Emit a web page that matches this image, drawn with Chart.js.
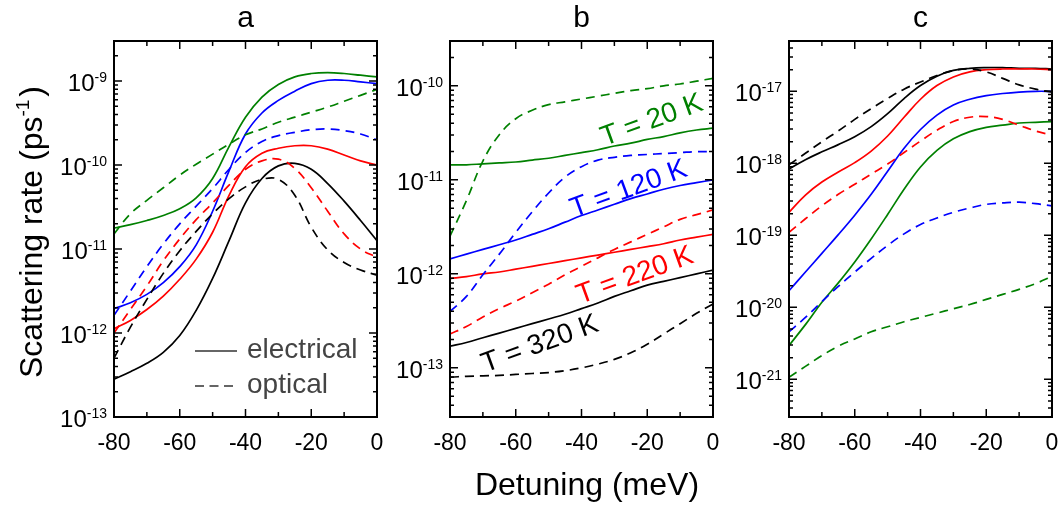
<!DOCTYPE html>
<html>
<head>
<meta charset="utf-8">
<script src="https://cdn.jsdelivr.net/npm/chart.js@4.4.1/dist/chart.umd.min.js"></script>
<style>
  body { margin: 0; background: #fff; }
  #wrap { position: relative; width: 1061px; height: 507px; }
  canvas { position: absolute; left: 0; top: 0; }
</style>
</head>
<body>
<div id="wrap">
  <canvas id="panelA" width="1061" height="507"></canvas>
  <canvas id="panelB" width="1061" height="507"></canvas>
  <canvas id="panelC" width="1061" height="507"></canvas>
</div>
<script>
const FONT = '"Liberation Sans", Arial, sans-serif';
const GREEN = '#008000', BLUE = '#0000ff', RED = '#ff0000', BLACK = '#000000';

// detuning grid (meV) shared by every curve
const detuning = [-80, -75, -70, -65, -60, -55, -50, -45, -40, -35, -30, -25, -20, -15, -10, -5, 0];
const detuningTicks = [-80, -60, -40, -20, 0];

// all rates below are log10 of the scattering rate in ps^-1
// panel a
const aElec20  = [-10.75, -10.71, -10.66, -10.60, -10.52, -10.39, -10.16, -9.78, -9.43, -9.19, -9.04, -8.95, -8.91, -8.90, -8.91, -8.93, -8.95];
const aElec120 = [-11.71, -11.64, -11.54, -11.40, -11.21, -10.95, -10.55, -10.07, -9.63, -9.38, -9.23, -9.12, -9.03, -8.99, -8.99, -9.01, -9.03];
const aElec220 = [-11.95, -11.85, -11.72, -11.56, -11.36, -11.12, -10.80, -10.36, -10.02, -9.86, -9.80, -9.77, -9.77, -9.81, -9.88, -9.95, -10.00];
const aElec320 = [-12.55, -12.46, -12.36, -12.23, -12.03, -11.73, -11.35, -10.90, -10.45, -10.16, -10.01, -9.98, -10.05, -10.22, -10.43, -10.66, -10.90];
const aOpt20   = [-10.82, -10.58, -10.42, -10.27, -10.12, -9.99, -9.87, -9.75, -9.64, -9.57, -9.49, -9.43, -9.37, -9.31, -9.24, -9.17, -9.10];
const aOpt120  = [-11.79, -11.50, -11.21, -10.94, -10.70, -10.49, -10.28, -10.05, -9.85, -9.72, -9.65, -9.61, -9.58, -9.57, -9.59, -9.63, -9.70];
const aOpt220  = [-12.00, -11.72, -11.44, -11.14, -10.88, -10.65, -10.45, -10.24, -10.05, -9.95, -9.93, -10.04, -10.27, -10.55, -10.82, -11.00, -11.10];
const aOpt320  = [-12.30, -11.93, -11.60, -11.29, -11.02, -10.79, -10.58, -10.40, -10.26, -10.17, -10.17, -10.36, -10.74, -11.01, -11.16, -11.25, -11.31];

// panel b
const bElec20  = [-10.84, -10.84, -10.83, -10.82, -10.81, -10.79, -10.77, -10.74, -10.71, -10.68, -10.64, -10.61, -10.57, -10.54, -10.50, -10.47, -10.45];
const bElec120 = [-11.84, -11.79, -11.74, -11.69, -11.64, -11.58, -11.52, -11.45, -11.38, -11.32, -11.26, -11.20, -11.15, -11.10, -11.06, -11.03, -11.00];
const bElec220 = [-12.05, -12.03, -12.00, -11.98, -11.95, -11.92, -11.89, -11.86, -11.83, -11.80, -11.77, -11.74, -11.71, -11.68, -11.64, -11.61, -11.58];
const bElec320 = [-12.77, -12.73, -12.68, -12.63, -12.58, -12.53, -12.48, -12.43, -12.37, -12.31, -12.24, -12.18, -12.12, -12.08, -12.04, -12.00, -11.96];
const bOpt20   = [-11.60, -11.22, -10.80, -10.52, -10.35, -10.26, -10.20, -10.17, -10.14, -10.11, -10.08, -10.05, -10.03, -10.00, -9.98, -9.95, -9.92];
const bOpt120  = [-12.40, -12.24, -12.01, -11.79, -11.56, -11.34, -11.14, -10.97, -10.86, -10.79, -10.76, -10.74, -10.73, -10.72, -10.71, -10.70, -10.70];
const bOpt220  = [-12.64, -12.56, -12.46, -12.37, -12.29, -12.20, -12.11, -12.01, -11.92, -11.83, -11.74, -11.66, -11.58, -11.50, -11.42, -11.37, -11.32];
const bOpt320  = [-13.10, -13.09, -13.085, -13.08, -13.07, -13.06, -13.05, -13.03, -13.00, -12.96, -12.91, -12.84, -12.75, -12.64, -12.53, -12.42, -12.32];

// panel c
const cElec20  = [-20.53, -20.24, -19.93, -19.66, -19.37, -19.05, -18.71, -18.36, -18.05, -17.82, -17.66, -17.56, -17.50, -17.47, -17.44, -17.43, -17.42];
const cElec120 = [-19.77, -19.51, -19.25, -18.99, -18.72, -18.43, -18.11, -17.79, -17.53, -17.33, -17.19, -17.11, -17.06, -17.03, -17.01, -17.00, -17.00];
const cElec220 = [-18.68, -18.44, -18.26, -18.12, -17.99, -17.83, -17.62, -17.36, -17.11, -16.92, -16.80, -16.73, -16.70, -16.69, -16.69, -16.69, -16.70];
const cElec320 = [-18.08, -17.95, -17.84, -17.74, -17.63, -17.49, -17.31, -17.10, -16.92, -16.79, -16.71, -16.68, -16.67, -16.67, -16.68, -16.68, -16.69];
const cOpt20   = [-20.97, -20.82, -20.67, -20.54, -20.44, -20.34, -20.27, -20.20, -20.14, -20.08, -20.02, -19.96, -19.89, -19.82, -19.75, -19.67, -19.57];
const cOpt120  = [-20.34, -20.14, -19.92, -19.71, -19.51, -19.32, -19.14, -18.98, -18.85, -18.76, -18.68, -18.62, -18.57, -18.55, -18.54, -18.56, -18.59];
const cOpt220  = [-18.96, -18.77, -18.59, -18.43, -18.29, -18.15, -18.01, -17.85, -17.69, -17.54, -17.42, -17.36, -17.35, -17.39, -17.47, -17.55, -17.61];
const cOpt320  = [-18.02, -17.86, -17.70, -17.55, -17.39, -17.24, -17.10, -16.97, -16.87, -16.78, -16.71, -16.69, -16.73, -16.82, -16.91, -16.97, -17.01];

// temperature labels in panel b, placed in data coordinates
const tempLabels = [
  { text: 'T = 20 K',  color: GREEN, x: -18.6, y: -10.37 },
  { text: 'T = 120 K', color: BLUE,  x: -25.6, y: -11.10 },
  { text: 'T = 220 K', color: RED,   x: -23.7, y: -12.02 },
  { text: 'T = 320 K', color: BLACK, x: -52.6, y: -12.75 }
];

function series(logs, color, dashed) {
  return {
    data: detuning.map((d, i) => ({ x: d, y: Math.pow(10, logs[i]) })),
    borderColor: color,
    borderWidth: 1.7,
    borderDash: dashed ? [9, 6] : [],
    pointRadius: 0,
    tension: 0.4,
    fill: false
  };
}

// frame, inward ticks on all four sides, tick labels and panel letter
const axesFrame = {
  id: 'axesFrame',
  afterDatasetsDraw(chart, args, opts) {
    const { ctx, chartArea: area } = chart;
    const x = chart.scales.x, y = chart.scales.y;
    ctx.save();
    ctx.strokeStyle = '#000';
    ctx.lineWidth = 1.5;
    ctx.beginPath();
    for (let v = -80; v <= 0; v += 10) {
      const px = x.getPixelForValue(v);
      const len = detuningTicks.includes(v) ? 8 : 5;
      ctx.moveTo(px, area.bottom); ctx.lineTo(px, area.bottom - len);
      ctx.moveTo(px, area.top); ctx.lineTo(px, area.top + len);
    }
    const e0 = Math.floor(Math.log10(y.min)), e1 = Math.ceil(Math.log10(y.max));
    for (let e = e0; e <= e1; e++) {
      for (let m = 1; m <= 9; m++) {
        const v = m * Math.pow(10, e);
        if (v < y.min * 0.999 || v > y.max * 1.001) continue;
        const py = y.getPixelForValue(v);
        const len = m === 1 ? 8 : 4;
        ctx.moveTo(area.left, py); ctx.lineTo(area.left + len, py);
        ctx.moveTo(area.right, py); ctx.lineTo(area.right - len, py);
      }
    }
    ctx.stroke();
    ctx.lineWidth = 2;
    ctx.strokeRect(area.left, area.top, area.right - area.left, area.bottom - area.top);

    ctx.fillStyle = '#000';
    ctx.textBaseline = 'alphabetic';
    ctx.font = '23px ' + FONT;
    ctx.textAlign = 'center';
    detuningTicks.forEach(v => ctx.fillText(String(v), x.getPixelForValue(v), area.bottom + 33));

    opts.decades.forEach(e => {
      const py = y.getPixelForValue(Math.pow(10, e));
      const right = area.left - 7;
      ctx.font = '14px ' + FONT;
      const sup = String(e);
      const ws = ctx.measureText(sup).width;
      ctx.textAlign = 'left';
      ctx.fillText(sup, right - ws, py + 1);
      ctx.font = '24px ' + FONT;
      ctx.textAlign = 'right';
      ctx.fillText('10', right - ws, py + 10);
    });

    ctx.font = '30px ' + FONT;
    ctx.textAlign = 'center';
    ctx.fillText(opts.letter, (area.left + area.right) / 2, 27);
    ctx.restore();
  }
};

// legend and the shared axis titles
const panelANotes = {
  id: 'panelANotes',
  afterDraw(chart) {
    const { ctx, chartArea: area } = chart;
    ctx.save();
    const lx = area.left + 81, tx = area.left + 133;
    ctx.strokeStyle = '#333';
    ctx.lineWidth = 1.7;
    ctx.beginPath();
    ctx.moveTo(lx, 351); ctx.lineTo(lx + 42, 351);
    ctx.stroke();
    ctx.setLineDash([9, 5.5]);
    ctx.beginPath();
    ctx.moveTo(lx, 386); ctx.lineTo(lx + 38, 386);
    ctx.stroke();
    ctx.setLineDash([]);
    ctx.fillStyle = '#444';
    ctx.font = '28px ' + FONT;
    ctx.textAlign = 'left';
    ctx.textBaseline = 'alphabetic';
    ctx.fillText('electrical', tx, 358);
    ctx.fillText('optical', tx, 393);

    ctx.fillStyle = '#000';
    ctx.font = '32px ' + FONT;
    ctx.textAlign = 'center';
    ctx.fillText('Detuning (meV)', 587, 495);

    ctx.translate(42, 232);
    ctx.rotate(-Math.PI / 2);
    const main = 'Scattering rate (ps', sup = '-1', tail = ')';
    ctx.font = '32px ' + FONT;
    const w1 = ctx.measureText(main).width, w3 = ctx.measureText(tail).width;
    ctx.font = '19px ' + FONT;
    const w2 = ctx.measureText(sup).width;
    const x0 = -(w1 + w2 + w3 + 3) / 2;
    ctx.textAlign = 'left';
    ctx.font = '32px ' + FONT;
    ctx.fillText(main, x0, 0);
    ctx.font = '19px ' + FONT;
    ctx.fillText(sup, x0 + w1, -13);
    ctx.font = '32px ' + FONT;
    ctx.fillText(tail, x0 + w1 + w2 + 3, 0);
    ctx.restore();
  }
};

const panelBNotes = {
  id: 'panelBNotes',
  afterDraw(chart) {
    const { ctx } = chart;
    const x = chart.scales.x, y = chart.scales.y;
    ctx.save();
    ctx.font = '28px ' + FONT;
    ctx.textAlign = 'center';
    ctx.textBaseline = 'middle';
    tempLabels.forEach(l => {
      ctx.save();
      ctx.translate(x.getPixelForValue(l.x), y.getPixelForValue(Math.pow(10, l.y)));
      ctx.rotate(-20 * Math.PI / 180);
      ctx.fillStyle = l.color;
      ctx.fillText(l.text, 0, 0);
      ctx.restore();
    });
    ctx.restore();
  }
};

function makePanel(id, padLeft, padRight, yMin, yMax, letter, decades, datasets, extra) {
  return new Chart(document.getElementById(id), {
    type: 'line',
    data: { datasets: datasets },
    options: {
      responsive: false,
      animation: false,
      devicePixelRatio: 1,
      events: [],
      layout: { padding: { left: padLeft, right: padRight, top: 41, bottom: 90 } },
      plugins: {
        legend: { display: false },
        tooltip: { enabled: false },
        axesFrame: { letter: letter, decades: decades }
      },
      scales: {
        x: { type: 'linear', min: -80, max: 0, display: false },
        y: { type: 'logarithmic', min: yMin, max: yMax, display: false }
      }
    },
    plugins: [axesFrame].concat(extra)
  });
}

makePanel('panelA', 114, 684, 1e-13, 3e-9, 'a', [-13, -12, -11, -10, -9], [
  series(aOpt20, GREEN, true), series(aOpt120, BLUE, true),
  series(aOpt220, RED, true), series(aOpt320, BLACK, true),
  series(aElec20, GREEN, false), series(aElec120, BLUE, false),
  series(aElec220, RED, false), series(aElec320, BLACK, false)
], [panelANotes]);

makePanel('panelB', 450, 348, 3e-14, 3e-10, 'b', [-13, -12, -11, -10], [
  series(bOpt20, GREEN, true), series(bOpt120, BLUE, true),
  series(bOpt220, RED, true), series(bOpt320, BLACK, true),
  series(bElec20, GREEN, false), series(bElec120, BLUE, false),
  series(bElec220, RED, false), series(bElec320, BLACK, false)
], [panelBNotes]);

makePanel('panelC', 789, 9, 3e-22, 5e-17, 'c', [-21, -20, -19, -18, -17], [
  series(cOpt20, GREEN, true), series(cOpt120, BLUE, true),
  series(cOpt220, RED, true), series(cOpt320, BLACK, true),
  series(cElec20, GREEN, false), series(cElec120, BLUE, false),
  series(cElec220, RED, false), series(cElec320, BLACK, false)
], []);
</script>
</body>
</html>
